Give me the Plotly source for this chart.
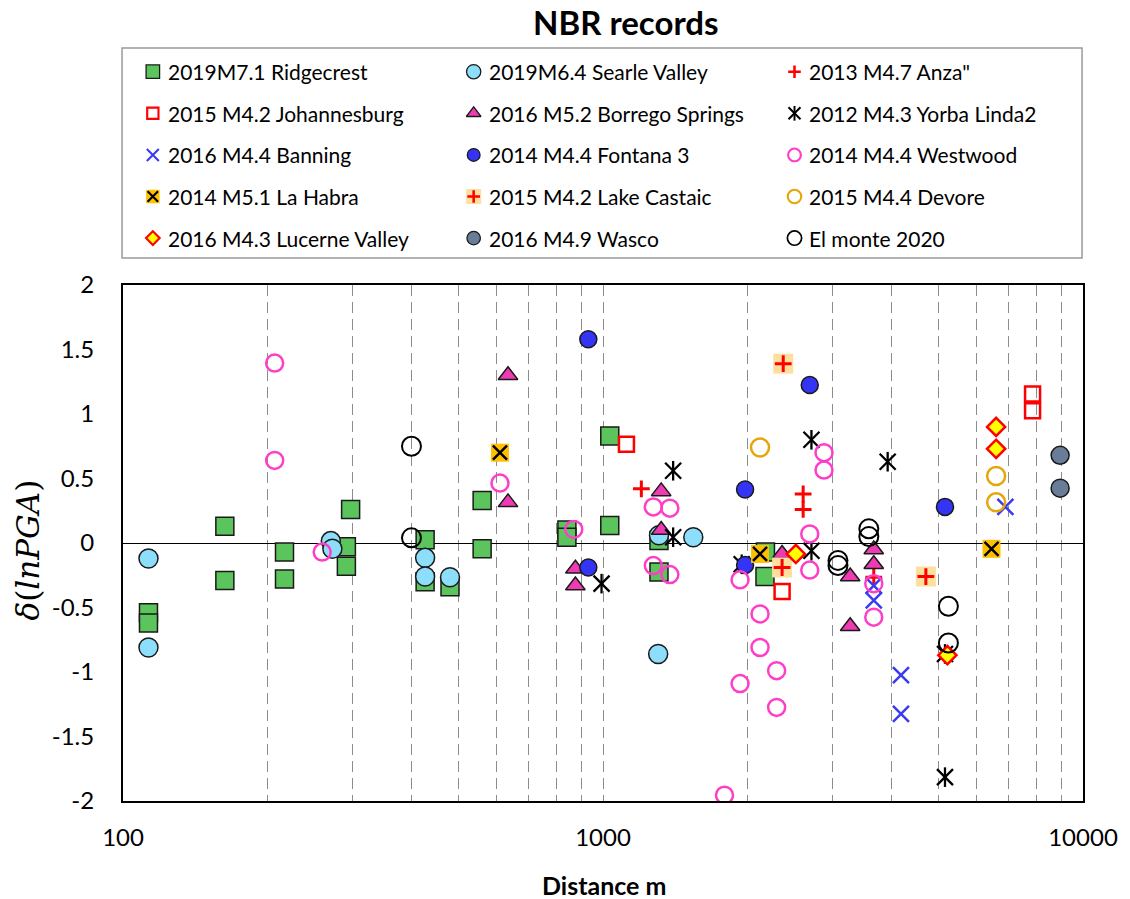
import plotly.graph_objects as go

# ---------------- data (distance [m], residual δ(lnPGA)) ----------------
series_names = [
    "2019M7.1 Ridgecrest", "2019M6.4 Searle Valley", "2013 M4.7 Anza\"",
    "2015 M4.2 Johannesburg", "2016 M5.2 Borrego Springs", "2012 M4.3 Yorba Linda2",
    "2016 M4.4 Banning", "2014 M4.4 Fontana 3", "2014 M4.4 Westwood",
    "2014 M5.1 La Habra", "2015 M4.2 Lake Castaic", "2015 M4.4 Devore",
    "2016 M4.3 Lucerne Valley", "2016 M4.9 Wasco", "El monte 2020",
]

ridgecrest_x = [113, 113, 163, 163, 217, 217, 298, 292, 292, 426, 426, 480, 560, 560,
                841, 841, 1033, 1033, 1308, 1308, 2180, 2175]
ridgecrest_y = [-0.54, -0.62, 0.13, -0.29, -0.07, -0.28, 0.26, -0.03, -0.18, 0.025, -0.30,
                -0.34, 0.33, -0.045, 0.10, 0.045, 0.83, 0.135, 0.02, -0.225, -0.07, -0.26]
searle_x = [113, 113, 271, 273, 426, 426, 480, 1308, 1542, 1303]
searle_y = [-0.12, -0.81, 0.015, -0.045, -0.115, -0.26, -0.265, 0.06, 0.045, -0.86]
anza_x = [1202, 2612, 2612, 3665]
anza_y = [0.42, 0.38, 0.26, -0.265]
johannesburg_x = [1119, 2361, 7851, 7851]
johannesburg_y = [0.765, -0.375, 1.155, 1.025]
borrego_x = [634, 634, 876, 876, 1322, 1322, 2361, 3273, 3273, 3665, 3665]
borrego_y = [1.30, 0.315, -0.20, -0.33, 0.40, 0.10, -0.085, -0.26, -0.645, -0.05, -0.165]
yorba_x = [1400, 1400, 993, 2718, 2718, 3918, 5158, 5158, 1945]
yorba_y = [0.56, 0.045, -0.315, 0.80, -0.06, 0.63, -0.86, -1.815, -0.165]
banning_x = [6891, 3665, 3665, 4176, 4176]
banning_y = [0.28, -0.33, -0.445, -1.025, -1.325]
fontana_x = [932, 932, 2696, 1977, 1977, 5158]
fontana_y = [1.58, -0.19, 1.225, 0.415, -0.17, 0.28]
westwood_x = [207, 207, 260, 610, 869, 1273, 1378, 1273, 1378, 1791, 2887, 2887, 2696,
              2696, 1930, 2124, 2124, 2300, 1930, 2300, 3665, 3665]
westwood_y = [1.395, 0.64, -0.07, 0.465, 0.105, 0.28, 0.27, -0.175, -0.245, -1.955, 0.70,
              0.565, 0.07, -0.21, -0.285, -0.55, -0.81, -0.99, -1.09, -1.275, -0.315, -0.575]
lahabra_x = [610, 2124, 6448]
lahabra_y = [0.70, -0.085, -0.045]
castaic_x = [2374, 2361, 4706]
castaic_y = [1.39, -0.19, -0.26]
devore_x = [2124, 6592, 6592]
devore_y = [0.74, 0.52, 0.315]
lucerne_x = [6592, 6592, 2522, 5218]
lucerne_y = [0.90, 0.73, -0.085, -0.87]
wasco_x = [8960, 8960]
wasco_y = [0.68, 0.425]
elmonte_x = [399, 399, 3579, 3579, 3087, 3087, 5243, 5243]
elmonte_y = [0.75, 0.04, 0.11, 0.05, -0.135, -0.175, -0.49, -0.775]

x_grid_vals = [100, 200, 300, 400, 500, 600, 700, 800, 900,
               1000, 2000, 3000, 4000, 5000, 6000, 7000, 8000, 9000, 10000]
x_labelled = {100: "100", 1000: "1000", 10000: "10000"}
y_tick_vals = [-2, -1.5, -1, -0.5, 0, 0.5, 1, 1.5, 2]
y_tick_text = ["-2", "-1.5", "-1", "-0.5", "0", "0.5", "1", "1.5", "2"]

# ---------------- styles ----------------
def layer(symbol, size, color, lc, lw):
    return dict(symbol=symbol, size=size, color=color, lc=lc, lw=lw)

series_data = [
    (ridgecrest_x, ridgecrest_y), (searle_x, searle_y), (anza_x, anza_y),
    (johannesburg_x, johannesburg_y), (borrego_x, borrego_y), (yorba_x, yorba_y),
    (banning_x, banning_y), (fontana_x, fontana_y), (westwood_x, westwood_y),
    (lahabra_x, lahabra_y), (castaic_x, castaic_y), (devore_x, devore_y),
    (lucerne_x, lucerne_y), (wasco_x, wasco_y), (elmonte_x, elmonte_y),
]
series_styles = [
    [layer("square", 18, "#5CC45C", "#1a1a1a", 1.5)],
    [layer("circle", 19, "#8CDEFA", "#1a1a1a", 1.5)],
    [layer("cross-thin-open", 12, "#FF0000", "#FF0000", 3)],
    [layer("square-open", 15, "#FF0000", "#FF0000", 2.5)],
    [layer("triangle-up", 17, "#EE3BB3", "#1a1a1a", 1.5)],
    [layer("x-thin-open", 16, "#000000", "#000000", 2.3),
     layer("line-ns-open", 14, "#000000", "#000000", 2.3)],
    [layer("x-thin-open", 16, "#3A3AF4", "#3A3AF4", 2.5)],
    [layer("circle", 17, "#3434F5", "#1a1a1a", 1.5)],
    [layer("circle-open", 17, "#FF3EC8", "#FF3EC8", 2.5)],
    [layer("square", 18, "#FFC000", "#FFC000", 0),
     layer("x-thin-open", 14, "#000000", "#000000", 2.5)],
    [layer("square", 20, "#FFDF9E", "#FFDF9E", 0),
     layer("cross-thin-open", 12, "#FF0000", "#FF0000", 3)],
    [layer("circle-open", 18, "#E5A60A", "#E5A60A", 2.5)],
    [layer("diamond", 14, "#FFFF00", "#FF0000", 2.5)],
    [layer("circle", 18, "#697C98", "#1a1a1a", 1.5)],
    [layer("circle-open", 19, "#000000", "#000000", 2)],
]

FONT = "Lato"
W, H = 1130, 899
ML, MR, MT, MB = 123, 42, 48, 98
plot_w = W - ML - MR
plot_h = H - MT - MB
PLOT_TOP, PLOT_BOTTOM = 285, 801
LEG_BOTTOM = 258
main_top = (PLOT_BOTTOM - PLOT_TOP) / plot_h
leg_bottom = (PLOT_BOTTOM - LEG_BOTTOM) / plot_h


def px_to_paper(px, py):
    """figure pixel position -> paper coordinates"""
    return (px - ML) / plot_w, (PLOT_BOTTOM - py) / plot_h


fig = go.Figure()

# main scatter traces
for (xs, ys), layers, name in zip(series_data, series_styles, series_names):
    for L in layers:
        fig.add_trace(go.Scatter(
            x=xs, y=ys, mode="markers", name=name, showlegend=False,
            xaxis="x", yaxis="y", hoverinfo="x+y+name",
            marker=dict(symbol=L["symbol"], size=L["size"], color=L["color"],
                        line=dict(color=L["lc"], width=L["lw"])),
        ))

# manual legend (3 columns x 5 rows) on a helper axis pair
annotations = []
col_step, row_step = 322.5, 41.6
for i, (layers, name) in enumerate(zip(series_styles, series_names)):
    c, r = i % 3, i // 3
    lx = 30 + col_step * c
    ly = 23.7 + row_step * r
    for L in layers:
        fig.add_trace(go.Scatter(
            x=[lx], y=[ly], mode="markers", showlegend=False, hoverinfo="skip",
            xaxis="x2", yaxis="y2",
            marker=dict(symbol=L["symbol"], size=L["size"] * 0.75, color=L["color"],
                        line=dict(color=L["lc"], width=L["lw"] * 0.85)),
        ))
    annotations.append(dict(
        x=lx + 13, y=ly, xref="x2", yref="y2", text=name, showarrow=False,
        xanchor="left", yanchor="middle",
        font=dict(family=FONT, size=21, color="#000000"),
    ))

# titles
tx, ty = px_to_paper(629, 22)
annotations.append(dict(
    x=tx, y=ty, xref="paper", yref="paper",
    text="<b>NBR records</b>", showarrow=False, xanchor="center", yanchor="middle",
    font=dict(family=FONT, size=33, color="#000000"),
))
tx, ty = px_to_paper(607, 885)
annotations.append(dict(
    x=tx, y=ty, xref="paper", yref="paper",
    text="<b>Distance m</b>", showarrow=False, xanchor="center", yanchor="middle",
    font=dict(family=FONT, size=25, color="#000000"),
))
tx, ty = px_to_paper(28, 550)
annotations.append(dict(
    x=tx, y=ty, xref="paper", yref="paper",
    text="<i>δ</i>(<i>lnPGA</i>)", showarrow=False, xanchor="center", yanchor="middle",
    textangle=-90, font=dict(family="DejaVu Serif", size=31, color="#000000"),
))

fig.update_layout(
    width=W, height=H,
    margin=dict(l=ML, r=MR, t=MT, b=MB),
    paper_bgcolor="white", plot_bgcolor="white",
    showlegend=False,
    annotations=annotations,
    xaxis=dict(
        type="log", range=[2, 4], domain=[0, 1], anchor="y",
        tickmode="array", tickvals=x_grid_vals,
        ticktext=[x_labelled.get(v, "") for v in x_grid_vals],
        showgrid=True, gridcolor="#8C8C8C", gridwidth=1.4, griddash="11px,6px",
        showline=True, linecolor="#000000", linewidth=2, mirror=True,
        ticks="", zeroline=False, ticklabelstandoff=14,
        tickfont=dict(family=FONT, size=24, color="#000000"),
    ),
    yaxis=dict(
        range=[-2, 2], domain=[0, main_top], anchor="x",
        tickmode="array", tickvals=y_tick_vals, ticktext=y_tick_text,
        showgrid=False, zeroline=True, zerolinecolor="#000000", zerolinewidth=1.3,
        showline=True, linecolor="#000000", linewidth=2, mirror=True,
        ticks="", ticklabelstandoff=22,
        tickfont=dict(family=FONT, size=24, color="#000000"),
    ),
    xaxis2=dict(domain=[0, 1], anchor="y2", range=[0, plot_w], visible=False,
                fixedrange=True),
    yaxis2=dict(domain=[leg_bottom, 1], anchor="x2", range=[LEG_BOTTOM - MT, 0],
                visible=False, fixedrange=True),
    shapes=[dict(type="rect", xref="x2 domain", yref="y2 domain", x0=-0.001, x1=0.999,
                 y0=0, y1=1, line=dict(color="#9A9A9A", width=1.5), layer="below")],
)

# remove the default 8px page margin so the figure fills the window exactly
fig.write_html("out.html", config={"displayModeBar": False},
               post_script="document.body.style.margin='0';")
